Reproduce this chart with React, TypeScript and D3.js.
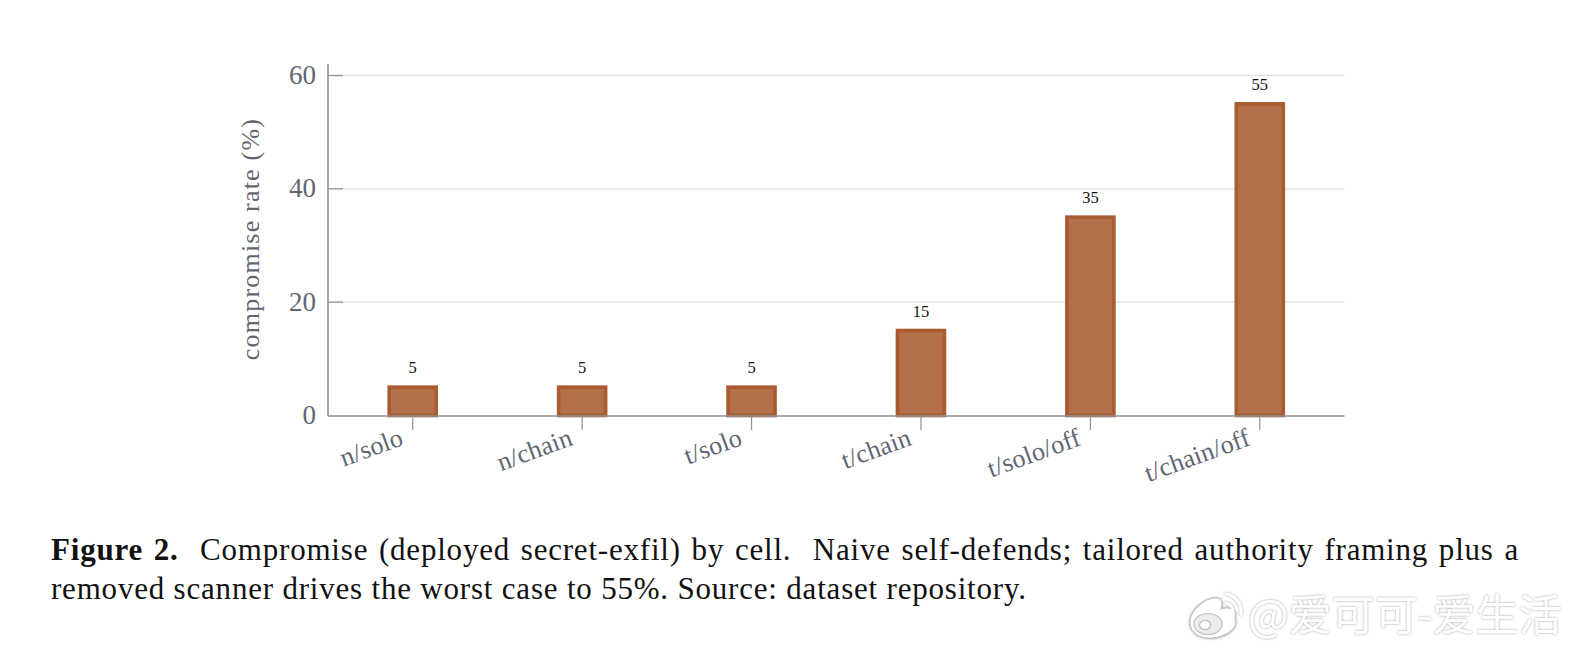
import React, { useEffect, useRef } from "react";
import * as d3 from "d3";

const categories = ["n/solo", "n/chain", "t/solo", "t/chain", "t/solo/off", "t/chain/off"];
const compromiseRates = [5, 5, 5, 15, 35, 55];
const yTicks = [0, 20, 40, 60];
const yLabel = "compromise rate (%)";
const captionBold = "Figure 2.";
const captionLine1 = "  Compromise (deployed secret-exfil) by cell.  Naive self-defends; tailored authority framing plus a";
const captionLine2 = "removed scanner drives the worst case to 55%. Source: dataset repository.";
const watermark = "@爱可可-爱生活";

const W = 1572, H = 652;
const SERIF = "'Liberation Serif', serif";
const AXIS = "#8f9194";
const TICK_TEXT = "#5f6672";
const CAPTION_LEFT = 51;
const CAPTION_RIGHT = 1519;

export default function App() {
  const x = d3.scaleBand<string>().domain(categories).range([328, 1344.5]);
  const y = d3.scaleLinear().domain([0, 60]).range([415.5, 75.5]);
  const barW = 47;
  const line1Ref = useRef<SVGTextElement>(null);

  useEffect(() => {
    const el = line1Ref.current;
    if (!el) return;
    const measure = () => {
      el.style.wordSpacing = "0px";
      const len = el.getComputedTextLength();
      const gaps = (captionBold + captionLine1).split(" ").length - 1;
      el.style.wordSpacing = `${(CAPTION_RIGHT - CAPTION_LEFT - len) / gaps}px`;
    };
    measure();
    (document as any).fonts?.ready?.then(measure);
  }, []);

  return (
    <svg width={W} height={H} viewBox={`0 0 ${W} ${H}`}
      style={{ position: "fixed", left: 0, top: 0, background: "#fff", display: "block" }}>
      <defs>
        <filter id="wmShadow" x="-10%" y="-30%" width="120%" height="160%">
          <feDropShadow dx="0" dy="0" stdDeviation="1.3" floodColor="#8a8a8a" floodOpacity="0.85" />
        </filter>
      </defs>

      {/* Grid */}
      {yTicks.filter(t => t > 0).map(t => (
        <line key={t} x1={329} x2={1344.5} y1={y(t)} y2={y(t)} stroke="#e0e0e3" strokeWidth={1.3} />
      ))}

      {/* Bars */}
      {categories.map((c, i) => {
        const cx = x(c)! + x.bandwidth() / 2;
        return (
          <g key={c}>
            <rect x={cx - barW / 2} y={y(compromiseRates[i])} width={barW}
              height={y(0) - y(compromiseRates[i])}
              fill="#b3704a" stroke="#ab5b32" strokeWidth={3.6} />
            <text x={cx} y={y(compromiseRates[i]) - 14} textAnchor="middle"
              fontFamily={SERIF} fontSize={16.5} fill="#111">{compromiseRates[i]}</text>
          </g>
        );
      })}

      {/* Y axis */}
      <line x1={328} x2={328} y1={64} y2={416} stroke={AXIS} strokeWidth={1.6} />
      {yTicks.map(t => (
        <g key={t}>
          {t > 0 && <line x1={328} x2={343} y1={y(t)} y2={y(t)} stroke={AXIS} strokeWidth={1.2} />}
          <text x={316} y={y(t) + 8.5} textAnchor="end" fontFamily={SERIF} fontSize={27} fill={TICK_TEXT}>{t}</text>
        </g>
      ))}
      <text transform="translate(259,239) rotate(-90)" textAnchor="middle"
        fontFamily={SERIF} fontSize={26} letterSpacing={1.2} fill={TICK_TEXT}>{yLabel}</text>

      {/* X axis */}
      <line x1={328} x2={1344.5} y1={416} y2={416} stroke={AXIS} strokeWidth={1.6} />
      {categories.map(c => {
        const cx = x(c)! + x.bandwidth() / 2;
        return (
          <g key={c}>
            <line x1={cx} x2={cx} y1={416} y2={430} stroke={AXIS} strokeWidth={1.2} />
            <text transform={`translate(${cx - 8},${444.5}) rotate(-20)`} textAnchor="end"
              fontFamily={SERIF} fontSize={26} letterSpacing={0.2} fill={TICK_TEXT}>{c}</text>
          </g>
        );
      })}

      {/* Caption */}
      <text ref={line1Ref} x={CAPTION_LEFT} y={559.5} fontFamily={SERIF} fontSize={31} letterSpacing={0.8} fill="#111"
        style={{ whiteSpace: "pre" }}>
        <tspan fontWeight="bold">{captionBold}</tspan>{captionLine1}
      </text>
      <text x={CAPTION_LEFT} y={598.5} fontFamily={SERIF} fontSize={31} letterSpacing={0.8} fill="#111"
        style={{ whiteSpace: "pre" }}>{captionLine2}</text>

      {/* Watermark */}
      <g filter="url(#wmShadow)">
        <path d="M1190,624 C1188,612 1204,598 1216,598 C1224,598 1222,606 1221,609 C1230,606 1238,610 1235,618 C1240,630 1222,639 1208,638 C1198,638 1191,632 1190,624 Z"
          fill="#fff" stroke="#c4c4c4" strokeWidth={1.2} />
        <ellipse cx={1208} cy={624} rx={14} ry={10.5} fill="#ececec" stroke="#c0c0c0" strokeWidth={1.2} />
        <ellipse cx={1205} cy={625} rx={5.5} ry={4.5} fill="#fff" stroke="#b8b8b8" strokeWidth={1.2} />
        <path d="M1226,603 a9,9 0 0 1 7,10 M1226,594 a18,18 0 0 1 15,20" fill="none" stroke="#fff" strokeWidth={3} strokeLinecap="round" />
        <text x={1248} y={631} fontFamily="'Noto Sans CJK SC', sans-serif" fontSize={43} fill="#ffffff">{watermark}</text>
      </g>
    </svg>
  );
}
